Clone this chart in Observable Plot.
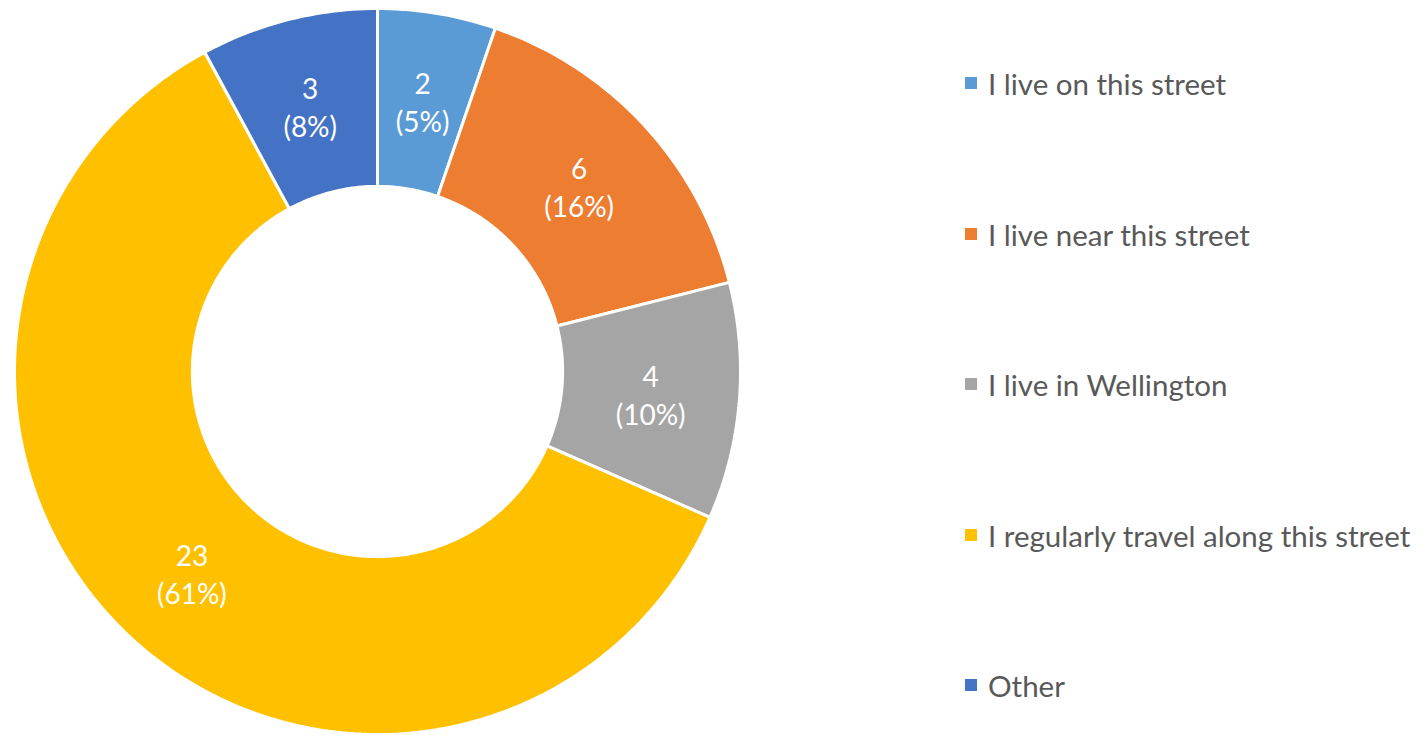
<!DOCTYPE html>
<html>
<head>
<meta charset="utf-8">
<script src="https://cdn.jsdelivr.net/npm/d3@7"></script>
<script src="https://cdn.jsdelivr.net/npm/@observablehq/plot@0.6"></script>
<style>
  html, body { margin: 0; padding: 0; background: #fff; }
  #wrap { position: relative; width: 1421px; height: 735px; overflow: hidden; }
  #legend { position: absolute; left: 965px; top: 0; font-family: Lato, "Open Sans", sans-serif; font-size: 29.5px; color: #595959; }
  .item { position: absolute; white-space: nowrap; display: flex; align-items: center; }
  .sw { width: 12px; height: 12px; margin-right: 11px; }
</style>
</head>
<body>
<div id="wrap"><div id="legend"></div></div>
<script>
const categories = ["I live on this street", "I live near this street", "I live in Wellington", "I regularly travel along this street", "Other"];
const counts = [2, 6, 4, 23, 3];
const percents = ["5%", "16%", "10%", "61%", "8%"];
const colors = ["#5B9BD5", "#ED7D31", "#A5A5A5", "#FFC000", "#4472C4"];
const legendY = [83, 234, 384, 535, 685];

const innerRatio = 0.51;
const total = d3.sum(counts);

// Build slice polygons (geometry from cumulative counts)
const polys = [];
const labels = [];
let cum = 0;
categories.forEach((c, i) => {
  const a0 = cum / total * 2 * Math.PI;
  cum += counts[i];
  const a1 = cum / total * 2 * Math.PI;
  const n = Math.max(8, Math.ceil((a1 - a0) / (Math.PI / 180)));
  for (let k = 0; k <= n; k++) {
    const a = a0 + (a1 - a0) * k / n;
    polys.push({cat: c, x: Math.sin(a), y: Math.cos(a)});
  }
  for (let k = n; k >= 0; k--) {
    const a = a0 + (a1 - a0) * k / n;
    polys.push({cat: c, x: innerRatio * Math.sin(a), y: innerRatio * Math.cos(a)});
  }
  const am = (a0 + a1) / 2;
  const rm = (1 + innerRatio) / 2;
  labels.push({cat: c, x: rm * Math.sin(am), y: rm * Math.cos(am), text: `${counts[i]}\n(${percents[i]})`});
});

const plot = Plot.plot({
  width: 1421,
  height: 735,
  margin: 0,
  x: {domain: [-1, 1], range: [14, 740], axis: null},
  y: {domain: [-1, 1], range: [734, 8], axis: null},
  color: {domain: categories, range: colors},
  marks: [
    Plot.line(polys, {x: "x", y: "y", z: "cat", fill: "cat", stroke: "white", strokeWidth: 3, curve: "linear-closed", strokeLinejoin: "miter"}),
    Plot.text(labels, {x: "x", y: "y", text: "text", fill: "white", fontSize: 28, lineHeight: 1.35, fontFamily: "Lato, 'Open Sans', sans-serif"})
  ]
});
document.getElementById("wrap").prepend(plot);

const legend = document.getElementById("legend");
categories.forEach((c, i) => {
  const item = document.createElement("div");
  item.className = "item";
  item.style.top = (legendY[i] - 19) + "px";
  item.style.height = "38px";
  const sw = document.createElement("span");
  sw.className = "sw";
  sw.style.background = colors[i];
  const t = document.createElement("span");
  t.textContent = c;
  item.appendChild(sw);
  item.appendChild(t);
  legend.appendChild(item);
});
</script>
</body>
</html>
